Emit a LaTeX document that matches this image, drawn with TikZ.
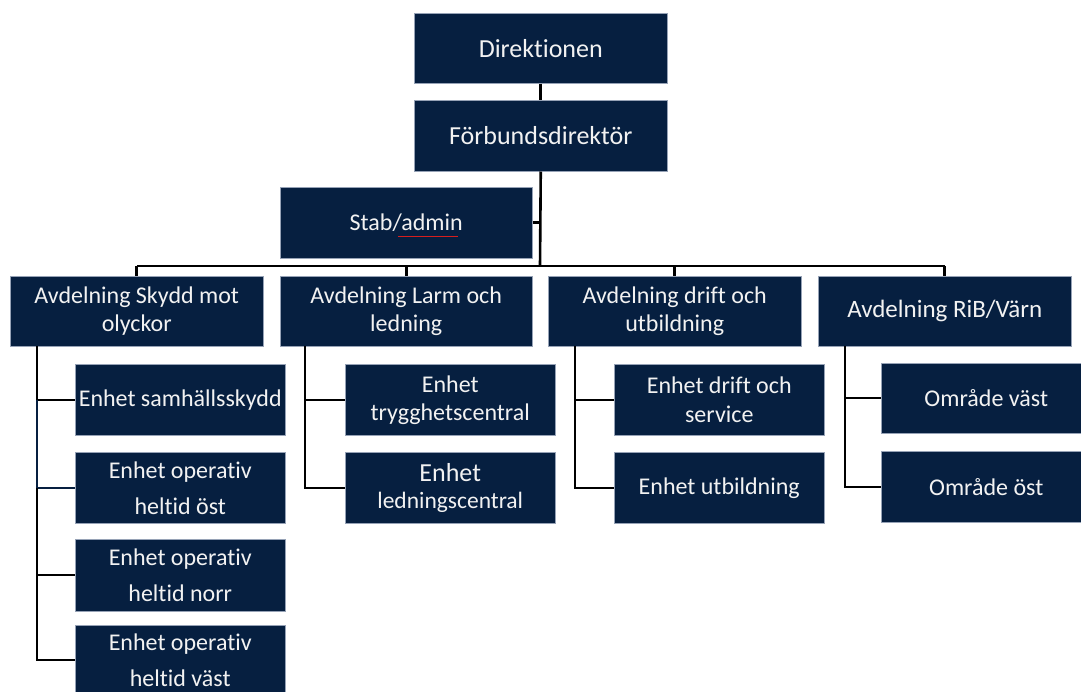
\documentclass[tikz,border=0pt]{standalone}
\usepackage{fontspec}
\setmainfont{Carlito}[RawFeature={-liga;-clig}]
\definecolor{navy}{RGB}{6,31,64}
\definecolor{rim}{RGB}{150,162,182}
\definecolor{squiggle}{RGB}{214,30,30}
\begin{document}
\begin{tikzpicture}[x=1pt,y=-1pt,
  box/.style={fill=navy, draw=rim, line width=0.5pt, text=white!95!black,
    align=center, inner sep=0pt, anchor=north west},
  top/.style={box, minimum width=253pt, minimum height=70pt, font=\fontsize{26}{30}\selectfont},
  dept/.style={box, minimum width=253pt, minimum height=70pt, font=\fontsize{24}{28}\selectfont},
  unitbox/.style={box, minimum width=210pt, minimum height=71pt, font=\fontsize{24}{28}\selectfont},
  tall/.style={font=\fontsize{24}{36}\selectfont},
  link/.style={draw=black, line width=2.6pt},
  sublink/.style={draw=black, line width=2.3pt},
  navylink/.style={draw=navy, line width=1.5pt}
]
\useasboundingbox (0,0) rectangle (1081,691);

% management
\node[top] (dir) at (414,13) {Direktionen};
\node[top, minimum height=71pt] (fd) at (414,100) {Förbundsdirektör};
\node[dept, minimum width=252pt, minimum height=71pt] (stab) at (280,187) {Stab/admin};

% departments
\node[dept] (a1) at (10,276) {Avdelning Skydd mot\\olyckor};
\node[dept, minimum width=252pt] (a2) at (280,276) {Avdelning Larm och\\ledning};
\node[dept] (a3) at (548,276) {Avdelning drift och\\utbildning};
\node[dept, font=\fontsize{25}{29}\selectfont] (a4) at (818,276) {Avdelning RiB/Värn};

% units
\node[unitbox] (c11) at (75,364) {Enhet samhällsskydd};
\node[unitbox, tall] (c12) at (75,452) {Enhet operativ\\heltid öst};
\node[unitbox, tall, minimum height=72pt] (c13) at (75,539) {Enhet operativ\\heltid norr};
\node[unitbox, tall, minimum height=70pt] (c14) at (75,625) {Enhet operativ\\heltid väst};

\node[unitbox, font=\fontsize{24}{28}\selectfont] (c21) at (345,364) {Enhet\\trygghetscentral};
\node[unitbox, font=\fontsize{23.5}{27}\selectfont] (c22) at (345,452) {{\fontsize{26}{27}\selectfont Enhet}\\ledningscentral};

\node[unitbox, font=\fontsize{24}{29}\selectfont] (c31) at (614,364) {Enhet drift och\\service};
\node[unitbox] (c32) at (614,452) {Enhet utbildning};

\node[unitbox, minimum width=210pt, minimum height=70pt] (c41) at (881,363) {Område väst};
\node[unitbox, minimum width=210pt] (c42) at (881,451) {Område öst};

% spell-check mark under "admin"
\draw[squiggle, line width=1.1pt] ([xshift=-8pt,yshift=-14pt]stab.center) -- ([xshift=52pt,yshift=-14pt]stab.center);

% trunk
\coordinate (bus) at (540,266);
\draw[link] (dir.south) -- (fd.north);
\draw[link] (fd.south) -- (bus);
\draw[link] (stab.east) -- (stab.east -| fd.south);
\draw[link] (a1.north |- bus) -- (a4.north |- bus);
\foreach \d in {a1,a2,a3,a4}
  \draw[link] (\d.north |- bus) -- (\d.north);

% branch: Skydd mot olyckor
\coordinate (s1) at (37,346);
\draw[sublink] (s1) -- (s1 |- c11.west) -- (c11.west);
\draw[navylink] (s1 |- c11.west) -- (s1 |- c12.west) -- (c12.west);
\draw[sublink] (s1 |- c12.west) -- (s1 |- c14.west) -- (c14.west);
\draw[sublink] (s1 |- c13.west) -- (c13.west);

% branch: Larm och ledning
\coordinate (s2) at (305,346);
\draw[sublink] (s2) -- (s2 |- c22.west) -- (c22.west);
\draw[sublink] (s2 |- c21.west) -- (c21.west);

% branch: drift och utbildning
\coordinate (s3) at (575,346);
\draw[sublink] (s3) -- (s3 |- c32.west) -- (c32.west);
\draw[sublink] (s3 |- c31.west) -- (c31.west);

% branch: RiB/Värn
\coordinate (s4) at (845,346);
\draw[sublink] (s4) -- (s4 |- c42.west) -- (c42.west);
\draw[sublink] (s4 |- c41.west) -- (c41.west);
\end{tikzpicture}
\end{document}
